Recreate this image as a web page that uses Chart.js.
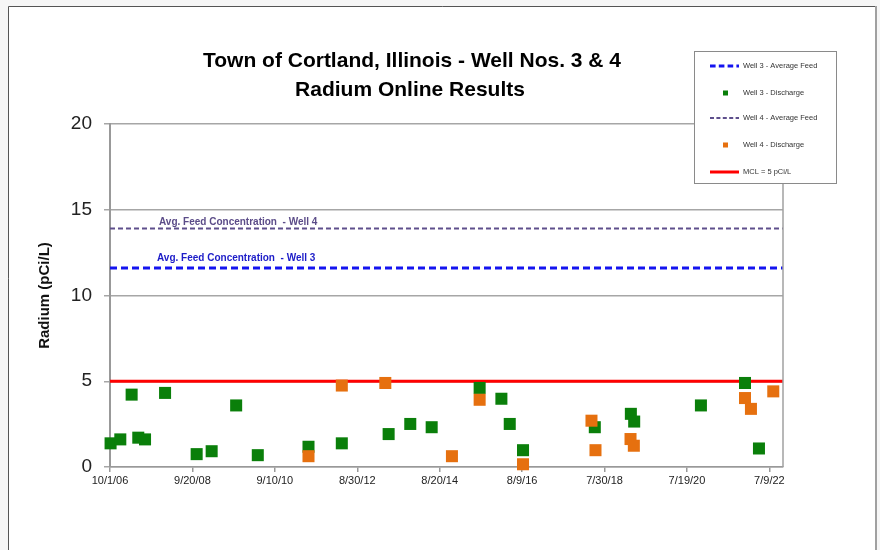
<!DOCTYPE html>
<html>
<head>
<meta charset="utf-8">
<title>Radium Online Results</title>
<script src="https://cdn.jsdelivr.net/npm/chart.js@4.4.1/dist/chart.umd.min.js"></script>
<style>
  html, body { margin: 0; padding: 0; background: #f6f6f6; }
</style>
</head>
<body>
<canvas id="radium_chart" width="880" height="550"></canvas>
<script>
var axisStart = '2006-10-01';
var axisEnd = '2022-11-05';
var xTickLabels = ['10/1/06', '9/20/08', '9/10/10', '8/30/12', '8/20/14', '8/9/16', '7/30/18', '7/19/20', '7/9/22'];
var yTickStep = 5;

var well3Dates = ['2006-10-06', '2006-12-30', '2007-04-08', '2007-06-05', '2007-08-03', '2008-01-25',
  '2008-10-27', '2009-03-07', '2009-10-07', '2010-04-14', '2011-07-01', '2012-04-17', '2013-05-31',
  '2013-12-06', '2014-06-11', '2015-08-04', '2016-02-10', '2016-04-23', '2016-08-17', '2018-05-06',
  '2019-03-17', '2019-04-15', '2020-11-18', '2021-12-08', '2022-04-09'];
var well3Values = [1.38, 1.61, 4.22, 1.71, 1.61, 4.32, 0.75, 0.92, 3.59, 0.69, 1.18, 1.38, 1.92,
  2.51, 2.32, 4.61, 3.98, 2.51, 0.98, 2.32, 3.10, 2.65, 3.59, 4.90, 1.08];

var well4Dates = ['2011-07-01', '2012-04-17', '2013-05-02', '2014-12-05', '2015-08-04', '2016-08-17',
  '2018-04-07', '2018-05-12', '2019-03-14', '2019-04-12', '2021-12-08', '2022-01-29', '2022-08-12'];
var well4Values = [0.63, 4.75, 4.90, 0.63, 3.92, 0.16, 2.70, 0.98, 1.63, 1.24, 4.02, 3.39, 4.41];

var well3AvgFeed = 11.6;
var well4AvgFeed = 13.9;
var mclLimit = 5;

var DAY = 86400000;
function dayOf(iso) {
  return Math.round((Date.parse(iso) - Date.parse(axisStart)) / DAY);
}
function dayOfLabel(lbl) {
  var p = lbl.split('/');
  var iso = (2000 + parseInt(p[2], 10)) + '-' + ('0' + p[0]).slice(-2) + '-' + ('0' + p[1]).slice(-2);
  return dayOf(iso);
}
function points(dates, values) {
  var out = [];
  for (var i = 0; i < dates.length; i++) {
    out.push({x: dayOf(dates[i]), y: values[i]});
  }
  return out;
}
function level(v) {
  return [{x: 0, y: v}, {x: dayOf(axisEnd), y: v}];
}

var xTickDays = xTickLabels.map(dayOfLabel);
var FONT = "'Liberation Sans', Arial, sans-serif";

var chartDecor = {
  id: 'chartDecor',
  beforeDraw: function(chart) {
    var ctx = chart.ctx;
    ctx.save();
    ctx.fillStyle = '#f6f6f6';
    ctx.fillRect(0, 0, chart.width, chart.height);
    ctx.fillStyle = '#ffffff';
    ctx.fillRect(8, 6, 868, 560);
    ctx.strokeStyle = '#555';
    ctx.lineWidth = 1;
    ctx.beginPath();
    ctx.moveTo(8.5, 560); ctx.lineTo(8.5, 6.5); ctx.lineTo(876, 6.5);
    ctx.stroke();
    ctx.strokeStyle = '#a0a0a0';
    ctx.lineWidth = 2;
    ctx.beginPath();
    ctx.moveTo(876, 6); ctx.lineTo(876, 560);
    ctx.stroke();
    ctx.restore();
  },
  afterDatasetsDraw: function(chart) {
    var ctx = chart.ctx, a = chart.chartArea, y = chart.scales.y;
    ctx.save();
    // plot area right edge
    ctx.strokeStyle = '#a0a0a0';
    ctx.lineWidth = 1.5;
    ctx.beginPath();
    ctx.moveTo(a.right, a.top); ctx.lineTo(a.right, a.bottom);
    ctx.stroke();
    // feed labels
    ctx.font = 'bold 10px ' + FONT;
    ctx.textBaseline = 'bottom';
    ctx.fillStyle = '#5b4c88';
    ctx.fillText('Avg. Feed Concentration  - Well 4', a.left + 49, y.getPixelForValue(well4AvgFeed) - 1);
    ctx.fillStyle = '#1c1cc8';
    ctx.fillText('Avg. Feed Concentration  - Well 3', a.left + 47, y.getPixelForValue(well3AvgFeed) - 5);
    ctx.restore();
  },
  afterDraw: function(chart) {
    var ctx = chart.ctx;
    ctx.save();
    // title
    ctx.fillStyle = '#000';
    ctx.font = 'bold 21px ' + FONT;
    ctx.textAlign = 'center';
    ctx.textBaseline = 'middle';
    ctx.fillText('Town of Cortland, Illinois - Well Nos. 3 & 4', 412, 61);
    ctx.fillText('Radium Online Results', 410, 90);
    // legend
    ctx.fillStyle = '#fff';
    ctx.fillRect(694, 51, 143, 133);
    ctx.strokeStyle = '#8a8a8a';
    ctx.lineWidth = 1;
    ctx.strokeRect(694.5, 51.5, 142, 132);
    var rows = [66, 93, 118, 145, 172];
    ctx.font = '7.5px ' + FONT;
    ctx.textAlign = 'left';
    chart.data.datasets.forEach(function(ds, r) {
      var ry = rows[r];
      if (ds.type === 'line') {
        ctx.strokeStyle = ds.borderColor;
        ctx.lineWidth = ds.borderWidth;
        ctx.setLineDash(ds.borderDash ? ds.borderDash.map(function(d) { return d * 0.8; }) : []);
        ctx.beginPath();
        ctx.moveTo(710, ry); ctx.lineTo(739, ry);
        ctx.stroke();
        ctx.setLineDash([]);
      } else {
        ctx.fillStyle = ds.backgroundColor;
        ctx.fillRect(723, ry - 2.5, 5, 5);
      }
      ctx.fillStyle = '#333';
      ctx.fillText(ds.label, 743, ry);
    });
    ctx.restore();
  }
};

var ctx = document.getElementById('radium_chart');
var radiumChart = new Chart(ctx, {
  type: 'scatter',
  data: {
    datasets: [{
      type: 'line',
      label: 'Well 3 - Average Feed',
      data: level(well3AvgFeed),
      borderColor: '#1414f0',
      borderWidth: 3,
      borderDash: [7, 4],
      pointRadius: 0,
      order: 3
    }, {
      label: 'Well 3 - Discharge',
      data: points(well3Dates, well3Values),
      backgroundColor: '#0a7f0a',
      borderColor: '#0a7f0a',
      borderWidth: 0,
      pointStyle: 'rect',
      pointRadius: 8.5,
      clip: false,
      order: 2
    }, {
      type: 'line',
      label: 'Well 4 - Average Feed',
      data: level(well4AvgFeed),
      borderColor: '#5e4f8c',
      borderWidth: 2,
      borderDash: [5, 3],
      pointRadius: 0,
      order: 3
    }, {
      label: 'Well 4 - Discharge',
      data: points(well4Dates, well4Values),
      backgroundColor: '#e6700f',
      borderColor: '#e6700f',
      borderWidth: 0,
      pointStyle: 'rect',
      pointRadius: 8.5,
      clip: false,
      order: 1
    }, {
      type: 'line',
      label: 'MCL = 5 pCi/L',
      data: level(mclLimit),
      borderColor: '#ff0000',
      borderWidth: 3,
      pointRadius: 0,
      order: 3
    }]
  },
  options: {
    responsive: false,
    animation: false,
    devicePixelRatio: 1,
    layout: { padding: { top: 124, right: 97, left: 0, bottom: 0 } },
    plugins: {
      legend: { display: false },
      tooltip: { enabled: false }
    },
    scales: {
      x: {
        type: 'linear',
        min: 0,
        max: dayOf(axisEnd),
        afterBuildTicks: function(scale) {
          scale.ticks = xTickDays.map(function(v) { return {value: v}; });
        },
        afterFit: function(scale) { scale.height = 83; },
        ticks: {
          autoSkip: false,
          maxRotation: 0,
          padding: 2,
          color: '#222',
          font: { family: FONT, size: 11 },
          callback: function(v, i) { return xTickLabels[i]; }
        },
        grid: { drawOnChartArea: false, drawTicks: true, tickLength: 5, color: '#999', lineWidth: 1.5 },
        border: { color: '#999', width: 1.5 }
      },
      y: {
        min: 0,
        max: 20,
        afterFit: function(scale) { scale.width = 110; },
        ticks: {
          stepSize: yTickStep,
          padding: 12,
          color: '#222',
          font: { family: FONT, size: 19 }
        },
        grid: { color: '#a6a6a6', lineWidth: 1.5, tickLength: 6 },
        border: { color: '#999', width: 2 },
        title: {
          display: true,
          text: 'Radium (pCi/L)',
          color: '#111',
          font: { family: FONT, size: 15, weight: 'bold' },
          padding: { top: 36 }
        }
      }
    }
  },
  plugins: [chartDecor]
});
</script>
</body>
</html>
